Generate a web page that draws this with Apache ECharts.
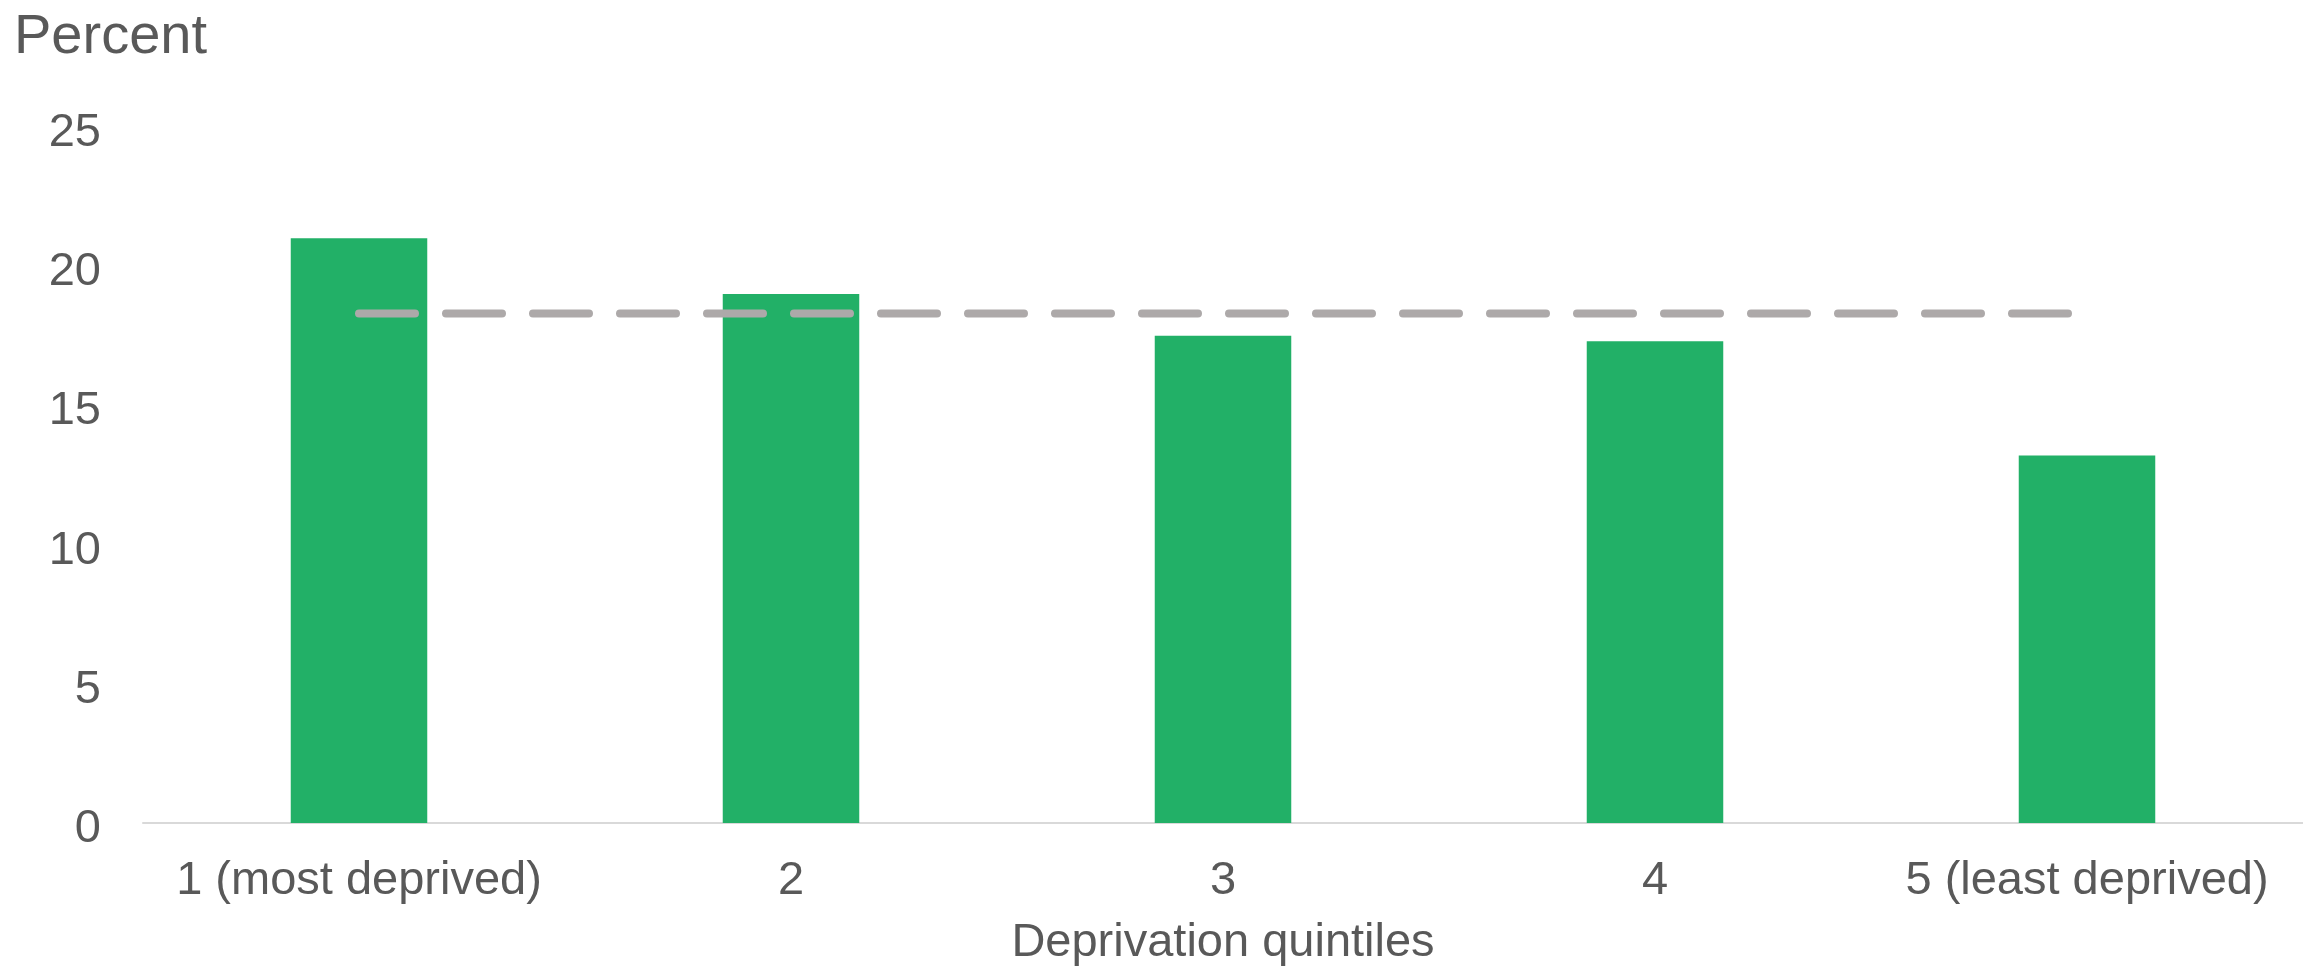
<!DOCTYPE html>
<html>
<head>
<meta charset="utf-8">
<script src="https://cdn.jsdelivr.net/npm/echarts@6/dist/echarts.min.js"></script>
<style>
  html, body { margin: 0; padding: 0; background: #ffffff; }
  #chart { width: 2303px; height: 972px; }
</style>
</head>
<body>
<div id="chart"></div>
<script>
// ---- Data ----
const categories = ['1 (most deprived)', '2', '3', '4', '5 (least deprived)'];
const quintileValues = [21.0, 19.0, 17.5, 17.3, 13.2];
const averageValues = [18.3, 18.3, 18.3, 18.3, 18.3];
const yTicks = { min: 0, max: 25, interval: 5 };
const yAxisTitle = 'Percent';
const xAxisTitle = 'Deprivation quintiles';

const textColor = '#595959';
const fontFamily = 'Liberation Sans, Arial, sans-serif';

const chart = echarts.init(document.getElementById('chart'), null, { renderer: 'canvas' });

chart.setOption({
  backgroundColor: '#ffffff',
  animation: false,
  title: {
    text: yAxisTitle,
    left: 14,
    top: 10,
    padding: 0,
    textStyle: { color: textColor, fontSize: 56, fontWeight: 'normal', fontFamily: fontFamily }
  },
  grid: {
    left: 143,
    top: 127,
    width: 2170,
    bottom: 146,
    containLabel: false
  },
  xAxis: {
    type: 'category',
    data: categories,
    name: xAxisTitle,
    nameLocation: 'middle',
    nameGap: 97,
    nameTextStyle: { color: textColor, fontSize: 47, fontFamily: fontFamily },
    axisLine: { show: true, lineStyle: { color: '#D9D9D9', width: 2 } },
    axisTick: { show: false },
    axisLabel: { color: textColor, fontSize: 47, fontFamily: fontFamily, margin: 35, interval: 0 },
    splitLine: { show: false }
  },
  yAxis: {
    type: 'value',
    min: yTicks.min,
    max: yTicks.max,
    interval: yTicks.interval,
    axisLine: { show: false },
    axisTick: { show: false },
    splitLine: { show: false },
    axisLabel: { color: textColor, fontSize: 47, fontFamily: fontFamily, margin: 42, verticalAlign: 'top', lineHeight: 12 }
  },
  series: [
    {
      name: 'Quintile',
      type: 'bar',
      data: quintileValues,
      barWidth: '31.6%',
      itemStyle: { color: '#22B067' },
      z: 2
    },
    {
      name: 'Average',
      type: 'line',
      data: averageValues,
      symbol: 'none',
      showSymbol: false,
      lineStyle: { color: '#ADA9A9', width: 8, type: [56, 31], cap: 'round' },
      z: 3
    }
  ]
});
</script>
</body>
</html>
